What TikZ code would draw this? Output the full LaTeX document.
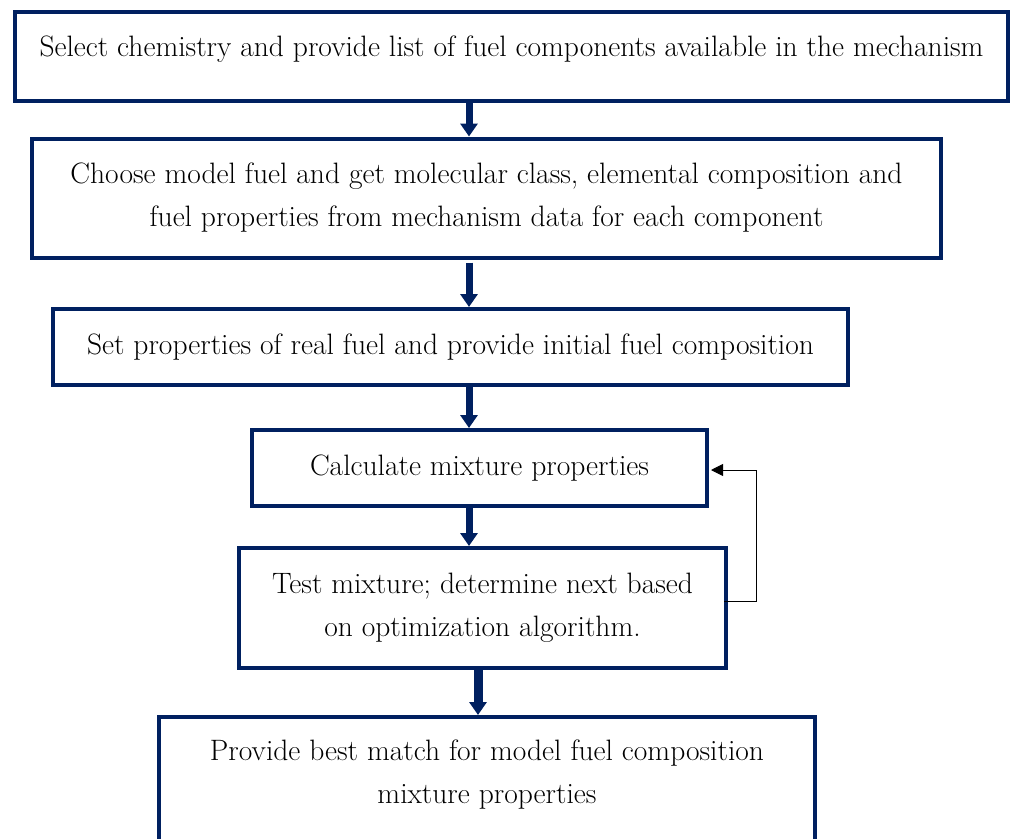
\documentclass[tikz,border=0pt]{standalone}
\usetikzlibrary{arrows.meta}
\definecolor{navy}{RGB}{0,32,96}
\begin{document}
\begin{tikzpicture}[x=1pt,y=-1pt,
  box/.style={draw=navy,line width=4pt,rectangle,inner sep=0pt,align=center,
    font=\fontsize{29.5}{43}\selectfont},
  txt/.style={inner sep=0pt,align=center,font=\fontsize{29.5}{43}\selectfont},
  bigarrow/.style={draw=navy,line width=7pt,-{Triangle[width=17pt,length=13pt]}},
  fb/.style={draw=black,line width=0.9pt,-{Triangle[width=12pt,length=12pt]}}]
\useasboundingbox (0,0) rectangle (1012,838);
\node[box,minimum width=993pt,minimum height=89pt,text height=18pt,text depth=18pt] (b1) at (511.5,56.5)
  {Select chemistry and provide list of fuel components available in the mechanism};
\node[box,minimum width=909pt,minimum height=119pt] (b2) at (486.5,198)
  {Choose model fuel and get molecular class, elemental composition and\\fuel properties from mechanism data for each component};
\node[box,minimum width=795pt,minimum height=76pt] (b3) at (450.5,347)
  {Set properties of real fuel and provide initial fuel composition};
\node[box,minimum width=455pt,minimum height=76pt] (b4) at (479.5,468)
  {Calculate mixture properties};
\node[box,minimum width=487pt,minimum height=120pt] (b5) at (482.5,608)
  {Test mixture; determine next based\\on optimization algorithm.};
\node[box,minimum width=656pt,minimum height=150pt] (b6) at (487,792) {};
\node[txt] (b6t) at (487,774.5) {Provide best match for model fuel composition\\mixture properties};
\draw[bigarrow] (b1.south -| 469,0) -- (b2.north -| 469,0);
\draw[bigarrow] (b2.south -| 469,0) ++(0,3) -- (b3.north -| 469,0);
\draw[bigarrow] (b3.south -| 469,0) -- (b4.north -| 469,0);
\draw[bigarrow] (b4.south -| 469,0) -- (b5.north -| 469,0);
\draw[bigarrow,line width=9pt] (b5.south -| 478,0) -- (b6.north -| 478,0);
\coordinate (fs) at ([xshift=-4pt]b5.east |- 0,601);
\coordinate (fc) at (756,601);
\draw[fb] (fs) -- (fc) -- (fc |- 0,470) -- ([xshift=2pt]b4.east |- 0,470);
\end{tikzpicture}
\end{document}
